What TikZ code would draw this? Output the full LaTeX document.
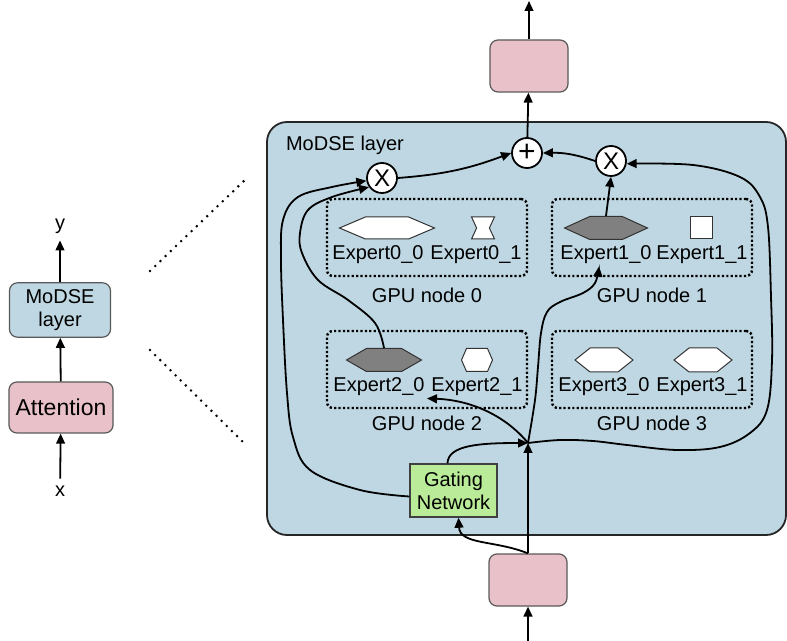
\documentclass[tikz,border=0pt]{standalone}
\usepackage{fontspec}
\setmainfont{Liberation Sans}
\usetikzlibrary{shapes.symbols,arrows.meta}
\definecolor{layerblue}{RGB}{190,215,226}
\definecolor{attnpink}{RGB}{233,193,201}
\definecolor{gategreen}{RGB}{186,235,152}
\definecolor{busygray}{RGB}{128,128,128}

\begin{document}
\begin{tikzpicture}[
    x=0.5pt,y=-0.5pt,
    every node/.style={font=\fontsize{10}{11.5}\selectfont},
    any/.style={draw=black!65,rounded corners=4pt,line width=0.6pt,align=center},
    pinkbox/.style={any,fill=attnpink,minimum width=39pt,minimum height=26pt},
    gpu/.style={draw,line width=1.2pt,dash pattern=on 1.1pt off 1.1pt,rounded corners=3pt,minimum width=100pt,minimum height=38.5pt},
    hexa/.style={shape=signal,signal to=east and west,draw=black!80,line width=0.5pt,fill=white,inner sep=0pt,minimum height=11.5pt},
    busy/.style={hexa,fill=busygray},
    lbl/.style={inner sep=1pt},
    op/.style={circle,draw,line width=0.9pt,fill=white,minimum size=15pt,inner sep=0pt,font=\fontsize{12}{12}\selectfont},
    arr/.style={-{Triangle[length=5pt,width=4.4pt]},line width=0.9pt},
    zoomline/.style={line width=1.4pt,dash pattern=on 0pt off 3.6pt,line cap=round}
]
\useasboundingbox (0,0) rectangle (787,641);

% left column
\node[any,fill=layerblue,minimum width=50.5pt,minimum height=27pt] (modse) at (60,310) {MoDSE\\layer};
\node[any,fill=attnpink,minimum width=52pt,minimum height=25.5pt,font=\fontsize{11.5}{13}\selectfont] (attn) at (61,407.5) {Attention};
\node (ylbl) at (60,226) {y};
\node (xlbl) at (60,491) {x};
\draw[arr] (modse) -- (ylbl);
\draw[arr] (attn) -- (modse);
\draw[arr] (xlbl) -- (attn);

% zoom lines
\coordinate (zu0) at (150,271);
\coordinate (zu1) at (247,178);
\coordinate (zl0) at (150,350);
\coordinate (zl1) at (247,446);
\draw[zoomline] (zu0) -- (zu1);
\draw[zoomline] (zl0) -- (zl1);

% MoDSE layer
\node[draw=black!85,fill=layerblue,line width=0.9pt,rounded corners=10pt,minimum width=259.5pt,minimum height=206.5pt] (layer) at (526.5,328.5) {};
\node[anchor=west] (title) at (279,145) {MoDSE layer};

\node[gpu] (gpu0) at (427,237.5) {};
\node[gpu] (gpu1) at (652,237.5) {};
\node[gpu] (gpu2) at (427,369.5) {};
\node[gpu] (gpu3) at (652,369.5) {};
\node (g0) at (427,295) {GPU node 0};
\node (g1) at (652,295) {GPU node 1};
\node (g2) at (427,423) {GPU node 2};
\node (g3) at (652,423) {GPU node 3};

% experts
\node[hexa,signal pointer angle=46,minimum width=47.5pt,minimum height=11pt] (e00) at (387,228) {};
\node[hexa,signal to=nowhere,signal from=east and west,signal pointer angle=130,minimum width=11.5pt,minimum height=11pt] (e01) at (483,228) {};
\node[busy,signal pointer angle=49,minimum width=41.5pt] (e10) at (606,228) {};
\node[draw=black!80,fill=white,line width=0.5pt,minimum size=11pt,inner sep=0pt] (e11) at (701,228) {};
\node[busy,signal pointer angle=60,minimum width=37.5pt] (e20) at (384,360) {};
\node[hexa,signal pointer angle=133,minimum width=15.5pt] (e21) at (477,360) {};
\node[hexa,signal pointer angle=77,minimum width=29pt,minimum height=12pt] (e30) at (604,360) {};
\node[hexa,signal pointer angle=77,minimum width=29pt,minimum height=12pt] (e31) at (703,360) {};

\node[lbl] (l00) at (378,255) {Expert0\_0};
\node[lbl] (l01) at (476,255) {Expert0\_1};
\node[lbl] (l10) at (606,255) {Expert1\_0};
\node[lbl] (l11) at (702,255) {Expert1\_1};
\node[lbl] (l20) at (379,387) {Expert2\_0};
\node[lbl] (l21) at (477,387) {Expert2\_1};
\node[lbl] (l30) at (604,387) {Expert3\_0};
\node[lbl] (l31) at (702,387) {Expert3\_1};

% gating and combine
\node[draw=black!75,fill=gategreen,line width=0.7pt,align=center,minimum width=43.5pt,minimum height=26.5pt,inner sep=1pt] (gate) at (453.5,490.5) {Gating\\Network};
\node[op,font=\fontsize{15}{15}\selectfont] (plus) at (527,153) {+};
\node[op] (xl) at (382,178) {X};
\node[op] (xr) at (611,161) {X};
\coordinate (J) at (528,443);

% in and out
\node[pinkbox] (topbox) at (529,66) {};
\node[pinkbox] (botbox) at (528,580) {};
\coordinate (out) at (529,1);
\coordinate (in) at (528,641);
\draw[arr] (topbox) -- (out);
\draw[arr] (plus) -- (topbox);
\draw[arr] (in) -- (botbox);

% routing
\draw[arr] (botbox.north) -- (J);
\draw[arr] (botbox.north) .. controls (495,540) and (460,545) .. ([xshift=2.5pt]gate.south);
\draw[arr] ([xshift=-3pt]gate.north) .. controls (448,445) and (480,443) .. (J);
\draw[arr] (J) .. controls (505,415) and (470,400) .. (l20.south east);
\draw[arr] plot[smooth,tension=0.6] coordinates {(J) (535,400) (538,367) (541,333) (547,312) (560,302) (583,293) (595,283) ([xshift=-3.5pt]l10.south)};
\draw[arr] plot[smooth,tension=0.6] coordinates {(J) (560,440) (593,441) (627,445) (677,450) (720,447) (750,433) (767,410) (772,360) (771,297) (768,227) (760,197) (740,177) (693,165) (xr.-10)};
\draw[arr] plot[smooth,tension=0.6] coordinates {([yshift=-3pt]gate.west) (360,490) (310,470) (293,437) (287,393) (283,320) (281,260) (283,220) (298,197) (332,187) (xl.190)};
\draw[arr] plot[smooth,tension=0.6] coordinates {(e20.north) (375,323) (348,300) (318,280) (302,253) (300,233) (308,210) (332,197) (xl.215)};
\draw[arr] (e10.north) -- (xr.south);
\draw[arr] (xl.east) to[bend right=8] (plus.west);
\draw[arr] (xr.west) to[bend right=10] (plus.east);
\end{tikzpicture}
\end{document}
